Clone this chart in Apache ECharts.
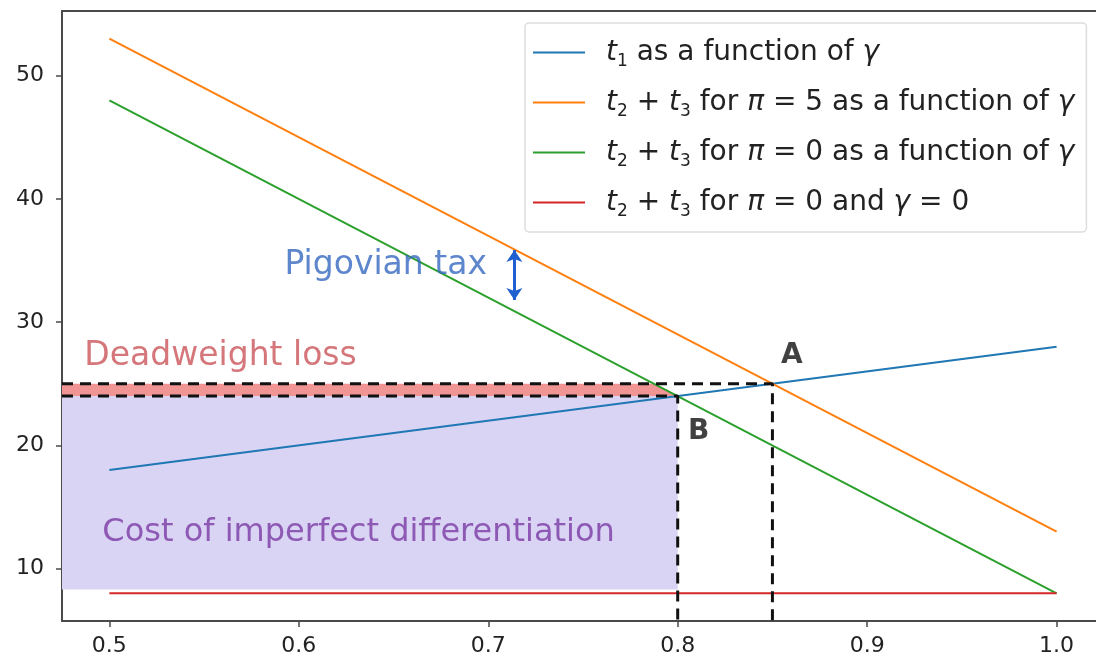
<!DOCTYPE html>
<html>
<head>
<meta charset="utf-8">
<script src="https://cdn.jsdelivr.net/npm/echarts@6/dist/echarts.min.js"></script>
<style>
  html, body { margin: 0; padding: 0; background: #fff; }
  #chart { width: 1096px; height: 659px; }
</style>
</head>
<body>
<div id="chart"></div>
<script>
// gamma values (x) and the four curves
const gammas = [0.5, 1.0];
const t1Vals = [18, 28];
const t23Pi5 = [53, 13];
const t23Pi0 = [48, 8];
const t23Pi0G0 = [8, 8];

const xTicks = [0.5, 0.6, 0.7, 0.8, 0.9, 1.0];
const yTicks = [10, 20, 30, 40, 50];

// points A and B, and the shaded areas
const pointA = [0.85, 25];
const pointB = [0.8, 24];
const xLeft = 0.475;
const xRight = 1.0208; // the plot is cut off at the right edge
const yBottom = 5.75;
const yTop = 55.25;
const costBase = 8.3;
const dwlTop = [[0.475, 25], [0.7875, 25], [0.8, 24]];
const pigouArrow = [[0.7138, 35.85], [0.7138, 31.8]];

const pairs = (ys) => gammas.map((g, i) => [g, ys[i]]);

const names = ['t1', 'pi5', 'pi0', 'pi0g0'];
const legendText = {
  t1: '{i|t}{s|1} as a function of {i|γ}',
  pi5: '{i|t}{s|2} + {i|t}{s|3} for {i|π} = 5 as a function of {i|γ}',
  pi0: '{i|t}{s|2} + {i|t}{s|3} for {i|π} = 0 as a function of {i|γ}',
  pi0g0: '{i|t}{s|2} + {i|t}{s|3} for {i|π} = 0 and {i|γ} = 0'
};

const axisColor = '#4a4a4a';
const chart = echarts.init(document.getElementById('chart'));

function textPoint(coord, text, color, size, weight) {
  return {
    type: 'scatter',
    symbolSize: 0,
    silent: true,
    z: 10,
    data: [coord],
    label: {
      show: true,
      position: 'inside',
      align: 'left',
      verticalAlign: 'middle',
      formatter: text,
      color: color,
      fontSize: size,
      fontWeight: weight || 'normal',
      fontFamily: 'DejaVu Sans'
    }
  };
}

chart.setOption({
  animation: false,
  backgroundColor: '#fff',
  grid: { left: 62, top: 11, right: 0, bottom: 38 },
  legend: {
    data: names,
    orient: 'vertical',
    left: 525,
    top: 23,
    padding: [12, 12, 12, 8],
    icon: 'rect',
    itemWidth: 52,
    itemHeight: 2,
    itemGap: 15,
    backgroundColor: '#fff',
    borderColor: '#ddd',
    borderWidth: 1.5,
    borderRadius: 4,
    formatter: (n) => legendText[n],
    textStyle: {
      fontFamily: 'DejaVu Sans',
      fontSize: 28,
      lineHeight: 35,
      color: '#222',
      padding: [0, 0, 0, 16],
      rich: {
        i: { fontStyle: 'italic', fontFamily: 'DejaVu Sans', fontSize: 28, lineHeight: 35, color: '#222' },
        s: { fontFamily: 'DejaVu Sans', fontSize: 17, lineHeight: 35, color: '#222', verticalAlign: 'bottom', padding: [10, 0, 0, 0] }
      }
    }
  },
  xAxis: [
    {
      type: 'value',
      min: xLeft,
      max: xRight,
      splitLine: { show: false },
      axisLine: { show: true, onZero: false, lineStyle: { color: axisColor, width: 2 } },
      axisTick: { show: true, length: 6, lineStyle: { color: axisColor, width: 1.5 }, customValues: xTicks },
      axisLabel: {
        customValues: xTicks,
        formatter: (v) => v.toFixed(1),
        fontFamily: 'DejaVu Sans', fontSize: 22, color: '#222', margin: 14
      }
    },
    {
      // top spine only
      type: 'value',
      position: 'top',
      min: xLeft,
      max: xRight,
      splitLine: { show: false },
      axisLine: { show: true, onZero: false, lineStyle: { color: axisColor, width: 2 } },
      axisTick: { show: false },
      axisLabel: { show: false }
    }
  ],
  yAxis: {
    type: 'value',
    min: yBottom,
    max: yTop,
    splitLine: { show: false },
    axisLine: { show: true, onZero: false, lineStyle: { color: axisColor, width: 2 } },
    axisTick: { show: true, length: 6, lineStyle: { color: axisColor, width: 1.5 }, customValues: yTicks },
    axisLabel: {
      customValues: yTicks,
      fontFamily: 'DejaVu Sans', fontSize: 22, color: '#222', margin: 18
    }
  },
  series: [
    {
      // cost of imperfect differentiation area
      type: 'line', silent: true, symbol: 'none', z: 1,
      data: [[xLeft, pointB[1]], [pointB[0], pointB[1]]],
      lineStyle: { width: 0 },
      areaStyle: { color: '#d9d4f3', opacity: 1, origin: costBase }
    },
    {
      // deadweight loss band
      type: 'line', silent: true, symbol: 'none', z: 1,
      data: dwlTop,
      lineStyle: { width: 0 },
      areaStyle: { color: '#f09494', opacity: 1, origin: pointB[1] }
    },
    { name: 't1', type: 'line', symbol: 'none', z: 3, data: pairs(t1Vals), color: '#1f77b4', lineStyle: { width: 2 } },
    { name: 'pi5', type: 'line', symbol: 'none', z: 3, data: pairs(t23Pi5), color: '#ff7f0e', lineStyle: { width: 2 } },
    { name: 'pi0', type: 'line', symbol: 'none', z: 3, data: pairs(t23Pi0), color: '#2ca02c', lineStyle: { width: 2 } },
    { name: 'pi0g0', type: 'line', symbol: 'none', z: 3, data: pairs(t23Pi0G0), color: '#d62728', lineStyle: { width: 2 } },
    {
      // dashed guides to A
      type: 'line', silent: true, symbol: 'none', z: 4,
      data: [[xLeft, pointA[1]], pointA, [pointA[0], yBottom]],
      lineStyle: { color: '#111', width: 3, type: [11, 7] }
    },
    {
      // dashed guides to B
      type: 'line', silent: true, symbol: 'none', z: 4,
      data: [[xLeft, pointB[1]], pointB, [pointB[0], yBottom]],
      lineStyle: { color: '#111', width: 3, type: [11, 7] }
    },
    {
      // Pigovian tax arrow
      type: 'line', silent: true, symbol: 'none', data: [],
      markLine: {
        silent: true,
        symbol: ['arrow', 'arrow'],
        symbolSize: [12, 12],
        label: { show: false },
        lineStyle: { color: '#1f5fd0', width: 3, type: 'solid' },
        data: [[{ coord: pigouArrow[0] }, { coord: pigouArrow[1] }]]
      }
    },
    textPoint([0.5924, 34.6], 'Pigovian tax', '#3468c0', 33),
    textPoint([0.4868, 27.2], 'Deadweight loss', '#c95459', 33),
    textPoint([0.4963, 12.9], 'Cost of imperfect differentiation', '#7a3aa4', 32),
    textPoint([0.8545, 27.3], 'A', '#111', 28, 'bold'),
    textPoint([0.8055, 21.1], 'B', '#111', 28, 'bold')
  ]
});
</script>
</body>
</html>
